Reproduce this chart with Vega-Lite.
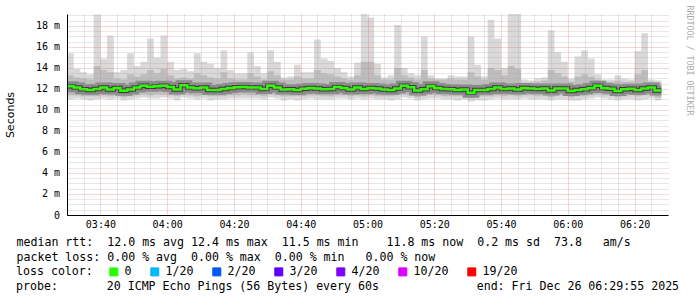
{
 "$schema": "https://vega.github.io/schema/vega-lite/v6.json",
 "width": 601, "height": 201,
 "autosize": {"type": "none"},
 "padding": {"left": 67, "top": 14, "right": 29, "bottom": 82},
 "background": "#ffffff",
 "config": {"view": {"stroke": null}},
 "title": {"text": "probe:\u00a0\u00a0\u00a0\u00a0\u00a0\u00a0\u00a020\u00a0ICMP\u00a0Echo\u00a0Pings\u00a0(56\u00a0Bytes)\u00a0every\u00a060s\u00a0\u00a0\u00a0\u00a0\u00a0\u00a0\u00a0\u00a0\u00a0\u00a0\u00a0\u00a0\u00a0\u00a0end:\u00a0Fri\u00a0Dec\u00a026\u00a006:29:55\u00a02025",
   "orient": "bottom", "anchor": "start", "frame": "group", "dx": -51, "offset": 3, "baseline": "top",
   "font": "DejaVu Sans Mono", "fontSize": 11.6, "fontWeight": "normal", "color": "#000000"},
 "resolve": {"axis": {"x": "independent", "y": "independent"}},
 "data": {"values": [
  {"t":"2025-12-26T03:30","med":12.25,"lo":11.0,"lo2":11.4,"hi2":13.3,"max":15.4,"loss":"0"},
  {"t":"2025-12-26T03:32","med":12.15,"lo":11.1,"lo2":11.4,"hi2":13.1,"max":13.9,"loss":"0"},
  {"t":"2025-12-26T03:34","med":11.97,"lo":11.0,"lo2":11.3,"hi2":13.0,"max":13.6,"loss":"0"},
  {"t":"2025-12-26T03:36","med":11.9,"lo":10.9,"lo2":11.3,"hi2":12.9,"max":13.4,"loss":"0"},
  {"t":"2025-12-26T03:38","med":12.0,"lo":11.0,"lo2":11.3,"hi2":14.2,"max":19.1,"loss":"0"},
  {"t":"2025-12-26T03:40","med":12.15,"lo":11.1,"lo2":11.4,"hi2":13.8,"max":14.9,"loss":"0"},
  {"t":"2025-12-26T03:42","med":11.95,"lo":11.0,"lo2":11.3,"hi2":13.6,"max":17.1,"loss":"0"},
  {"t":"2025-12-26T03:44","med":12.1,"lo":11.1,"lo2":11.4,"hi2":13.0,"max":13.6,"loss":"0"},
  {"t":"2025-12-26T03:46","med":11.82,"lo":10.9,"lo2":11.2,"hi2":12.9,"max":13.8,"loss":"0"},
  {"t":"2025-12-26T03:48","med":11.95,"lo":11.0,"lo2":11.3,"hi2":13.4,"max":15.4,"loss":"0"},
  {"t":"2025-12-26T03:50","med":12.15,"lo":11.1,"lo2":11.4,"hi2":13.2,"max":14.2,"loss":"0"},
  {"t":"2025-12-26T03:52","med":12.3,"lo":11.2,"lo2":11.5,"hi2":13.4,"max":14.6,"loss":"0"},
  {"t":"2025-12-26T03:54","med":12.22,"lo":11.1,"lo2":11.4,"hi2":13.8,"max":16.8,"loss":"0"},
  {"t":"2025-12-26T03:56","med":12.25,"lo":11.1,"lo2":11.5,"hi2":13.5,"max":15.0,"loss":"0"},
  {"t":"2025-12-26T03:58","med":12.3,"lo":11.2,"lo2":11.5,"hi2":13.9,"max":17.1,"loss":"0"},
  {"t":"2025-12-26T04:00","med":12.2,"lo":11.1,"lo2":11.4,"hi2":13.3,"max":14.6,"loss":"0"},
  {"t":"2025-12-26T04:02","med":11.95,"lo":10.9,"lo2":11.3,"hi2":13.0,"max":13.8,"loss":"0"},
  {"t":"2025-12-26T04:04","med":12.35,"lo":11.2,"lo2":11.5,"hi2":13.1,"max":13.9,"loss":"0"},
  {"t":"2025-12-26T04:06","med":12.15,"lo":11.1,"lo2":11.4,"hi2":13.0,"max":13.7,"loss":"0"},
  {"t":"2025-12-26T04:08","med":12.07,"lo":11.0,"lo2":11.3,"hi2":13.5,"max":15.4,"loss":"0"},
  {"t":"2025-12-26T04:10","med":12.15,"lo":11.1,"lo2":11.4,"hi2":13.3,"max":14.6,"loss":"0"},
  {"t":"2025-12-26T04:12","med":11.9,"lo":10.9,"lo2":11.3,"hi2":13.1,"max":14.4,"loss":"0"},
  {"t":"2025-12-26T04:14","med":11.9,"lo":11.0,"lo2":11.3,"hi2":13.0,"max":14.0,"loss":"0"},
  {"t":"2025-12-26T04:16","med":12.0,"lo":11.0,"lo2":11.3,"hi2":13.6,"max":15.7,"loss":"0"},
  {"t":"2025-12-26T04:18","med":12.1,"lo":11.1,"lo2":11.4,"hi2":13.0,"max":13.8,"loss":"0"},
  {"t":"2025-12-26T04:20","med":12.16,"lo":11.1,"lo2":11.4,"hi2":12.9,"max":13.5,"loss":"0"},
  {"t":"2025-12-26T04:22","med":12.2,"lo":11.1,"lo2":11.5,"hi2":12.9,"max":13.5,"loss":"0"},
  {"t":"2025-12-26T04:24","med":12.15,"lo":11.1,"lo2":11.4,"hi2":13.5,"max":15.5,"loss":"0"},
  {"t":"2025-12-26T04:26","med":12.15,"lo":11.1,"lo2":11.4,"hi2":13.2,"max":14.2,"loss":"0"},
  {"t":"2025-12-26T04:28","med":12.0,"lo":11.0,"lo2":11.3,"hi2":12.9,"max":13.5,"loss":"0"},
  {"t":"2025-12-26T04:30","med":12.3,"lo":11.2,"lo2":11.5,"hi2":13.7,"max":15.7,"loss":"0"},
  {"t":"2025-12-26T04:32","med":12.15,"lo":11.1,"lo2":11.4,"hi2":13.3,"max":14.6,"loss":"0"},
  {"t":"2025-12-26T04:34","med":11.95,"lo":10.9,"lo2":11.3,"hi2":12.9,"max":13.1,"loss":"0"},
  {"t":"2025-12-26T04:36","med":11.97,"lo":11.0,"lo2":11.3,"hi2":12.9,"max":13.2,"loss":"0"},
  {"t":"2025-12-26T04:38","med":11.9,"lo":10.9,"lo2":11.3,"hi2":13.2,"max":14.3,"loss":"0"},
  {"t":"2025-12-26T04:40","med":12.03,"lo":11.0,"lo2":11.3,"hi2":13.0,"max":13.6,"loss":"0"},
  {"t":"2025-12-26T04:42","med":12.1,"lo":11.1,"lo2":11.4,"hi2":13.0,"max":13.6,"loss":"0"},
  {"t":"2025-12-26T04:44","med":12.05,"lo":11.0,"lo2":11.4,"hi2":13.8,"max":16.7,"loss":"0"},
  {"t":"2025-12-26T04:46","med":11.97,"lo":11.0,"lo2":11.3,"hi2":13.5,"max":14.9,"loss":"0"},
  {"t":"2025-12-26T04:48","med":12.0,"lo":11.0,"lo2":11.3,"hi2":13.4,"max":14.7,"loss":"0"},
  {"t":"2025-12-26T04:50","med":12.2,"lo":11.1,"lo2":11.4,"hi2":13.2,"max":14.0,"loss":"0"},
  {"t":"2025-12-26T04:52","med":12.1,"lo":11.1,"lo2":11.4,"hi2":13.0,"max":13.6,"loss":"0"},
  {"t":"2025-12-26T04:54","med":11.95,"lo":11.0,"lo2":11.3,"hi2":12.9,"max":13.2,"loss":"0"},
  {"t":"2025-12-26T04:56","med":12.15,"lo":11.1,"lo2":11.4,"hi2":13.3,"max":14.5,"loss":"0"},
  {"t":"2025-12-26T04:58","med":12.0,"lo":11.0,"lo2":11.3,"hi2":14.6,"max":19.3,"loss":"0"},
  {"t":"2025-12-26T05:00","med":12.1,"lo":11.1,"lo2":11.4,"hi2":14.6,"max":18.8,"loss":"0"},
  {"t":"2025-12-26T05:02","med":12.05,"lo":11.0,"lo2":11.3,"hi2":13.3,"max":14.4,"loss":"0"},
  {"t":"2025-12-26T05:04","med":11.95,"lo":11.0,"lo2":11.3,"hi2":12.9,"max":13.1,"loss":"0"},
  {"t":"2025-12-26T05:06","med":11.9,"lo":10.9,"lo2":11.3,"hi2":12.9,"max":13.3,"loss":"0"},
  {"t":"2025-12-26T05:08","med":12.05,"lo":11.0,"lo2":11.4,"hi2":14.0,"max":18.1,"loss":"0"},
  {"t":"2025-12-26T05:10","med":12.3,"lo":11.2,"lo2":11.5,"hi2":13.3,"max":14.0,"loss":"0"},
  {"t":"2025-12-26T05:12","med":12.16,"lo":11.1,"lo2":11.4,"hi2":13.1,"max":13.5,"loss":"0"},
  {"t":"2025-12-26T05:14","med":11.85,"lo":10.9,"lo2":11.2,"hi2":12.9,"max":13.3,"loss":"0"},
  {"t":"2025-12-26T05:16","med":11.97,"lo":11.0,"lo2":11.3,"hi2":13.8,"max":17.0,"loss":"0"},
  {"t":"2025-12-26T05:18","med":12.25,"lo":11.1,"lo2":11.5,"hi2":13.0,"max":13.3,"loss":"0"},
  {"t":"2025-12-26T05:20","med":12.1,"lo":11.1,"lo2":11.4,"hi2":12.9,"max":13.0,"loss":"0"},
  {"t":"2025-12-26T05:22","med":12.0,"lo":11.0,"lo2":11.3,"hi2":12.9,"max":13.0,"loss":"0"},
  {"t":"2025-12-26T05:24","med":11.97,"lo":11.0,"lo2":11.3,"hi2":13.0,"max":13.3,"loss":"0"},
  {"t":"2025-12-26T05:26","med":11.9,"lo":10.9,"lo2":11.3,"hi2":12.9,"max":13.2,"loss":"0"},
  {"t":"2025-12-26T05:28","med":11.95,"lo":11.0,"lo2":11.3,"hi2":12.9,"max":13.2,"loss":"0"},
  {"t":"2025-12-26T05:30","med":11.65,"lo":10.8,"lo2":11.1,"hi2":13.6,"max":17.0,"loss":"0"},
  {"t":"2025-12-26T05:32","med":11.9,"lo":10.9,"lo2":11.3,"hi2":13.2,"max":14.3,"loss":"0"},
  {"t":"2025-12-26T05:34","med":11.9,"lo":10.9,"lo2":11.3,"hi2":12.9,"max":13.2,"loss":"0"},
  {"t":"2025-12-26T05:36","med":12.0,"lo":11.0,"lo2":11.3,"hi2":14.0,"max":18.6,"loss":"0"},
  {"t":"2025-12-26T05:38","med":12.15,"lo":11.1,"lo2":11.4,"hi2":13.8,"max":16.8,"loss":"0"},
  {"t":"2025-12-26T05:40","med":12.0,"lo":11.0,"lo2":11.3,"hi2":13.3,"max":14.0,"loss":"0"},
  {"t":"2025-12-26T05:42","med":12.05,"lo":11.0,"lo2":11.4,"hi2":14.2,"max":19.3,"loss":"0"},
  {"t":"2025-12-26T05:44","med":11.95,"lo":11.0,"lo2":11.3,"hi2":13.9,"max":19.3,"loss":"0"},
  {"t":"2025-12-26T05:46","med":12.1,"lo":11.1,"lo2":11.4,"hi2":12.6,"max":12.9,"loss":"0"},
  {"t":"2025-12-26T05:48","med":12.05,"lo":11.0,"lo2":11.4,"hi2":12.6,"max":12.8,"loss":"0"},
  {"t":"2025-12-26T05:50","med":12.0,"lo":11.0,"lo2":11.3,"hi2":12.7,"max":13.0,"loss":"0"},
  {"t":"2025-12-26T05:52","med":12.05,"lo":11.0,"lo2":11.4,"hi2":12.8,"max":13.1,"loss":"0"},
  {"t":"2025-12-26T05:54","med":11.85,"lo":10.9,"lo2":11.2,"hi2":13.8,"max":17.6,"loss":"0"},
  {"t":"2025-12-26T05:56","med":12.05,"lo":11.0,"lo2":11.4,"hi2":13.5,"max":15.5,"loss":"0"},
  {"t":"2025-12-26T05:58","med":12.05,"lo":11.0,"lo2":11.4,"hi2":13.2,"max":14.6,"loss":"0"},
  {"t":"2025-12-26T06:00","med":11.8,"lo":10.9,"lo2":11.2,"hi2":12.7,"max":13.0,"loss":"0"},
  {"t":"2025-12-26T06:02","med":11.9,"lo":10.9,"lo2":11.3,"hi2":13.2,"max":15.1,"loss":"0"},
  {"t":"2025-12-26T06:04","med":11.97,"lo":11.0,"lo2":11.3,"hi2":13.4,"max":15.7,"loss":"0"},
  {"t":"2025-12-26T06:06","med":12.1,"lo":11.1,"lo2":11.4,"hi2":13.2,"max":14.9,"loss":"0"},
  {"t":"2025-12-26T06:08","med":12.3,"lo":11.2,"lo2":11.5,"hi2":12.9,"max":13.4,"loss":"0"},
  {"t":"2025-12-26T06:10","med":12.1,"lo":11.1,"lo2":11.4,"hi2":12.7,"max":12.9,"loss":"0"},
  {"t":"2025-12-26T06:12","med":12.03,"lo":11.0,"lo2":11.4,"hi2":12.7,"max":12.9,"loss":"0"},
  {"t":"2025-12-26T06:14","med":11.8,"lo":10.9,"lo2":11.2,"hi2":12.8,"max":13.3,"loss":"0"},
  {"t":"2025-12-26T06:16","med":11.97,"lo":11.0,"lo2":11.3,"hi2":12.7,"max":13.0,"loss":"0"},
  {"t":"2025-12-26T06:18","med":12.03,"lo":11.0,"lo2":11.4,"hi2":12.7,"max":12.9,"loss":"0"},
  {"t":"2025-12-26T06:20","med":11.9,"lo":10.9,"lo2":11.3,"hi2":13.4,"max":15.6,"loss":"0"},
  {"t":"2025-12-26T06:22","med":12.05,"lo":11.0,"lo2":11.4,"hi2":13.8,"max":17.3,"loss":"0"},
  {"t":"2025-12-26T06:24","med":12.15,"lo":11.1,"lo2":11.4,"hi2":12.7,"max":12.9,"loss":"0"},
  {"t":"2025-12-26T06:26","med":11.85,"lo":10.9,"lo2":11.2,"hi2":12.6,"max":12.8,"loss":"0"},
  {"t":"2025-12-26T06:28","med":11.85,"lo":10.9,"lo2":11.2,"hi2":12.6,"max":12.8,"loss":"0"}
 ]},
 "layer": [
  {
   "mark": {"type": "area", "interpolate": "step-after", "color": "#d9d9d9", "clip": true},
   "encoding": {
    "x": {"field": "t", "type": "temporal",
     "scale": {"domain": [{"year": 2025, "month": 12, "date": 26, "hours": 3, "minutes": 30}, {"year": 2025, "month": 12, "date": 26, "hours": 6, "minutes": 30}]},
     "axis": {
      "orient": "bottom", "zindex": 2,
      "values": [
       {"year": 2025, "month": 12, "date": 26, "hours": 3, "minutes": 40},
       {"year": 2025, "month": 12, "date": 26, "hours": 4, "minutes": 0},
       {"year": 2025, "month": 12, "date": 26, "hours": 4, "minutes": 20},
       {"year": 2025, "month": 12, "date": 26, "hours": 4, "minutes": 40},
       {"year": 2025, "month": 12, "date": 26, "hours": 5, "minutes": 0},
       {"year": 2025, "month": 12, "date": 26, "hours": 5, "minutes": 20},
       {"year": 2025, "month": 12, "date": 26, "hours": 5, "minutes": 40},
       {"year": 2025, "month": 12, "date": 26, "hours": 6, "minutes": 0},
       {"year": 2025, "month": 12, "date": 26, "hours": 6, "minutes": 20}
      ],
      "format": "%H:%M",
      "labelOverlap": false, "labelFlush": false,
      "labelFont": "DejaVu Sans Mono", "labelFontSize": 10, "labelColor": "#000000", "labelPadding": 4,
      "ticks": false,
      "domainColor": "#000000", "domainWidth": 1,
      "grid": true, "gridDash": [1, 1], "gridWidth": 1, "gridColor": "#e07070", "gridOpacity": 0.55,
      "title": ["median rtt:\u00a0\u00a012.0\u00a0ms\u00a0avg\u00a012.4\u00a0ms\u00a0max\u00a0\u00a011.5\u00a0ms\u00a0min\u00a0\u00a0\u00a0\u00a011.8\u00a0ms\u00a0now\u00a0\u00a00.2\u00a0ms\u00a0sd\u00a0\u00a073.8\u00a0\u00a0\u00a0am/s",
                "packet\u00a0loss:\u00a00.00\u00a0%\u00a0avg\u00a0\u00a00.00\u00a0%\u00a0max\u00a0\u00a00.00\u00a0%\u00a0min\u00a0\u00a0\u00a00.00\u00a0%\u00a0now"],
      "titleFont": "DejaVu Sans Mono", "titleFontSize": 11.6, "titleFontWeight": "normal", "titleColor": "#000000",
      "titleAnchor": "start", "titleAlign": "left", "titleBaseline": "top", "titleAngle": 0,
      "titleX": -51, "titleY": 21.5, "titleLineHeight": 14.5
     }
    },
    "y": {"field": "lo", "type": "quantitative",
     "scale": {"domain": [0, 19.14], "nice": false, "zero": true},
     "axis": {
      "orient": "left", "zindex": 2,
      "values": [0, 2, 4, 6, 8, 10, 12, 14, 16, 18],
      "labelExpr": "datum.value === 0 ? '0' : datum.value + ' m'",
      "labelOverlap": false, "labelFlush": false,
      "labelFont": "DejaVu Sans Mono", "labelFontSize": 10, "labelColor": "#000000", "labelPadding": 7.5,
      "ticks": false,
      "domainColor": "#000000", "domainWidth": 1,
      "grid": true, "gridDash": [1, 1], "gridWidth": 1, "gridColor": "#e07070", "gridOpacity": 0.55,
      "title": "Seconds", "titleFont": "DejaVu Sans", "titleFontSize": 11, "titleFontWeight": "normal", "titleColor": "#000000",
      "titleAngle": -90, "titleAlign": "center", "titleBaseline": "middle", "titleX": -57, "titleY": 100.5
     }
    },
    "y2": {"field": "max"}
   }
  },
  {
   "mark": {"type": "area", "interpolate": "step-after", "color": "#bdbdbd", "clip": true},
   "encoding": {
    "x": {"field": "t", "type": "temporal", "axis": null},
    "y": {"field": "lo2", "type": "quantitative", "axis": null},
    "y2": {"field": "hi2"}
   }
  },
  {
   "mark": {"type": "line", "interpolate": "step-after", "color": "#8a8a8a", "strokeWidth": 10, "clip": true},
   "encoding": {
    "x": {"field": "t", "type": "temporal", "axis": null},
    "y": {"field": "med", "type": "quantitative", "axis": null}
   }
  },
  {
   "mark": {"type": "line", "interpolate": "step-after", "color": "#3a3a3a", "strokeWidth": 4.5, "clip": true},
   "encoding": {
    "x": {"field": "t", "type": "temporal", "axis": null},
    "y": {"field": "med", "type": "quantitative", "axis": null}
   }
  },
  {
   "mark": {"type": "line", "interpolate": "step-after", "strokeWidth": 2.5, "clip": true},
   "encoding": {
    "x": {"field": "t", "type": "temporal",
     "axis": {
      "orient": "top", "zindex": 1,
      "values": [
       {"year": 2025, "month": 12, "date": 26, "hours": 3, "minutes": 35},
       {"year": 2025, "month": 12, "date": 26, "hours": 3, "minutes": 45},
       {"year": 2025, "month": 12, "date": 26, "hours": 3, "minutes": 50},
       {"year": 2025, "month": 12, "date": 26, "hours": 3, "minutes": 55},
       {"year": 2025, "month": 12, "date": 26, "hours": 4, "minutes": 5},
       {"year": 2025, "month": 12, "date": 26, "hours": 4, "minutes": 10},
       {"year": 2025, "month": 12, "date": 26, "hours": 4, "minutes": 15},
       {"year": 2025, "month": 12, "date": 26, "hours": 4, "minutes": 25},
       {"year": 2025, "month": 12, "date": 26, "hours": 4, "minutes": 30},
       {"year": 2025, "month": 12, "date": 26, "hours": 4, "minutes": 35},
       {"year": 2025, "month": 12, "date": 26, "hours": 4, "minutes": 45},
       {"year": 2025, "month": 12, "date": 26, "hours": 4, "minutes": 50},
       {"year": 2025, "month": 12, "date": 26, "hours": 4, "minutes": 55},
       {"year": 2025, "month": 12, "date": 26, "hours": 5, "minutes": 5},
       {"year": 2025, "month": 12, "date": 26, "hours": 5, "minutes": 10},
       {"year": 2025, "month": 12, "date": 26, "hours": 5, "minutes": 15},
       {"year": 2025, "month": 12, "date": 26, "hours": 5, "minutes": 25},
       {"year": 2025, "month": 12, "date": 26, "hours": 5, "minutes": 30},
       {"year": 2025, "month": 12, "date": 26, "hours": 5, "minutes": 35},
       {"year": 2025, "month": 12, "date": 26, "hours": 5, "minutes": 45},
       {"year": 2025, "month": 12, "date": 26, "hours": 5, "minutes": 50},
       {"year": 2025, "month": 12, "date": 26, "hours": 5, "minutes": 55},
       {"year": 2025, "month": 12, "date": 26, "hours": 6, "minutes": 5},
       {"year": 2025, "month": 12, "date": 26, "hours": 6, "minutes": 10},
       {"year": 2025, "month": 12, "date": 26, "hours": 6, "minutes": 15},
       {"year": 2025, "month": 12, "date": 26, "hours": 6, "minutes": 25}
      ],
      "labels": false, "ticks": false, "domain": false, "title": null,
      "grid": true, "gridDash": [1, 1], "gridWidth": 1, "gridColor": "#a8a8a8", "gridOpacity": 0.55
     }
    },
    "y": {"field": "med", "type": "quantitative",
     "axis": {
      "orient": "right", "zindex": 1,
      "values": [0.5,1,1.5,2.5,3,3.5,4.5,5,5.5,6.5,7,7.5,8.5,9,9.5,10.5,11,11.5,12.5,13,13.5,14.5,15,15.5,16.5,17,17.5,18.5,19],
      "labels": false, "ticks": false, "domain": false,
      "grid": true, "gridDash": [1, 1], "gridWidth": 1, "gridColor": "#a8a8a8", "gridOpacity": 0.55,
      "title": "RRDTOOL / TOBI OETIKER", "titleFont": "DejaVu Sans Mono", "titleFontSize": 8.3, "titleFontWeight": "normal", "titleColor": "#ababab",
      "titleAngle": 90, "titleAlign": "left", "titleBaseline": "middle", "titleX": 20, "titleY": -9
     }
    },
    "color": {"field": "loss", "type": "nominal",
     "scale": {"domain": ["0", "1/20", "2/20", "3/20", "4/20", "10/20", "19/20"], "range": ["#26ff00", "#00b8ff", "#0059ff", "#5e00ff", "#7e00ff", "#dd00ff", "#ff0000"]},
     "legend": {
      "title": "loss color:", "orient": "none", "legendX": -51, "legendY": 252,
      "direction": "horizontal", "columns": 7,
      "titleOrient": "left", "titleFont": "DejaVu Sans Mono", "titleFontSize": 11.6, "titleFontWeight": "normal", "titleColor": "#000000", "titlePadding": 15,
      "labelFont": "DejaVu Sans Mono", "labelFontSize": 11.6, "labelColor": "#000000", "labelOffset": 5,
      "columnPadding": 16, "symbolType": "square", "symbolSize": 64, "symbolStrokeWidth": 1,
      "encode": {"symbols": {"update": {"fill": {"scale": "color", "field": "value"}, "stroke": {"value": "#000000"}, "fillOpacity": {"value": 1}, "opacity": {"value": 1}}}}
     }
    }
   }
  }
 ]
}
